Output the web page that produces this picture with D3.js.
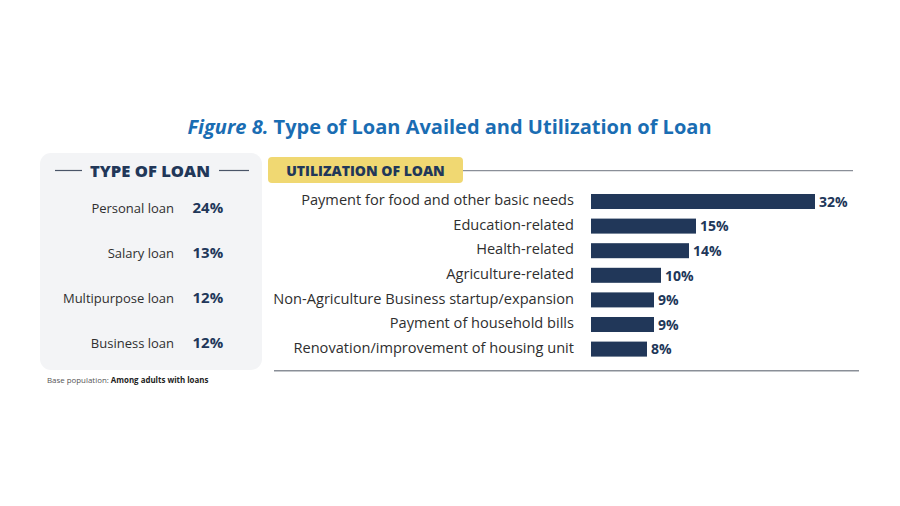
<!DOCTYPE html>
<html><head><meta charset="utf-8">
<script src="https://cdn.jsdelivr.net/npm/d3@7"></script>
<style>
html,body{margin:0;padding:0;background:#fff;}
svg{display:block;}
text{font-family:"Open Sans","Noto Sans",sans-serif;}
</style></head>
<body>
<svg id="c" width="900" height="506"></svg>
<script>
const loanTypes = ["Personal loan","Salary loan","Multipurpose loan","Business loan"];
const loanTypeValues = [24,13,12,12];
const uses = ["Payment for food and other basic needs","Education-related","Health-related","Agriculture-related","Non-Agriculture Business startup/expansion","Payment of household bills","Renovation/improvement of housing unit"];
const useValues = [32,15,14,10,9,9,8];

const navy = "#213759";
const textGray = "#2f2f2f";
const svg = d3.select("#c");

// Title
const title = svg.append("text").attr("x",449.5).attr("y",134).attr("text-anchor","middle")
  .attr("font-size",20).attr("font-weight",700).attr("fill","#1a6db3");
title.append("tspan").attr("font-style","italic").text("Figure 8.");
title.append("tspan").text(" Type of Loan Availed and Utilization of Loan");

// Left panel
svg.append("rect").attr("x",40).attr("y",153).attr("width",222).attr("height",217)
  .attr("rx",11).attr("fill","#f3f4f6");
svg.append("text").attr("x",150).attr("y",177).attr("text-anchor","middle")
  .attr("font-size",16.6).attr("font-weight",800).attr("fill",navy).text("TYPE OF LOAN");
svg.append("line").attr("x1",55).attr("x2",82).attr("y1",170.5).attr("y2",170.5).attr("stroke","#4a5568").attr("stroke-width",1.2);
svg.append("line").attr("x1",219).attr("x2",249).attr("y1",170.5).attr("y2",170.5).attr("stroke","#4a5568").attr("stroke-width",1.2);

const yl = d3.scalePoint().domain(loanTypes).range([208,343]);
const lg = svg.append("g");
lg.selectAll("text.lab").data(loanTypes).join("text").attr("class","lab")
  .attr("x",174).attr("y",d=>yl(d)).attr("dy","0.35em").attr("text-anchor","end")
  .attr("font-size",13).attr("fill",textGray).text(d=>d);
lg.selectAll("text.val").data(loanTypes).join("text").attr("class","val")
  .attr("x",192.5).attr("y",d=>yl(d)).attr("dy","0.35em")
  .attr("font-size",15).attr("font-weight",700).attr("fill",navy)
  .text((d,i)=>loanTypeValues[i]+"%");

svg.append("text").attr("x",47).attr("y",383).attr("font-size",7.9).attr("fill","#555")
  .text("Base population: ").append("tspan").attr("font-weight",700).attr("fill","#222").text("Among adults with loans");

// Utilization panel
svg.append("rect").attr("x",268).attr("y",157).attr("width",195).attr("height",26).attr("rx",4).attr("fill","#f0d872");
svg.append("text").attr("x",365.5).attr("y",176).attr("text-anchor","middle")
  .attr("font-size",14).attr("font-weight",800).attr("fill",navy).text("UTILIZATION OF LOAN");
svg.append("line").attr("x1",463).attr("x2",853).attr("y1",170.7).attr("y2",170.7).attr("stroke","#8a8f98").attr("stroke-width",1.3);
svg.append("line").attr("x1",274).attr("x2",859).attr("y1",370.7).attr("y2",370.7).attr("stroke","#8a8f98").attr("stroke-width",1.5);

const x = d3.scaleLinear().domain([0,32]).range([591,815]);
const y = d3.scaleBand().domain(uses).range([189.2,361.4]).paddingInner(0.39).paddingOuter(0.195);
const bg = svg.append("g");
bg.selectAll("rect").data(uses).join("rect")
  .attr("x",x(0)).attr("y",d=>y(d)).attr("width",(d,i)=>x(useValues[i])-x(0)).attr("height",y.bandwidth())
  .attr("fill",navy);
bg.selectAll("text.lab").data(uses).join("text").attr("class","lab")
  .attr("x",574).attr("y",d=>y(d)+y.bandwidth()/2 - 1.5).attr("dy","0.35em").attr("text-anchor","end")
  .attr("font-size",14.6).attr("fill",textGray).text(d=>d);
bg.selectAll("text.val").data(uses).join("text").attr("class","val")
  .attr("x",(d,i)=>x(useValues[i])+4).attr("y",d=>y(d)+y.bandwidth()/2).attr("dy","0.38em")
  .attr("font-size",14).attr("font-weight",700).attr("fill",navy)
  .text((d,i)=>useValues[i]+"%");
</script>
</body></html>
